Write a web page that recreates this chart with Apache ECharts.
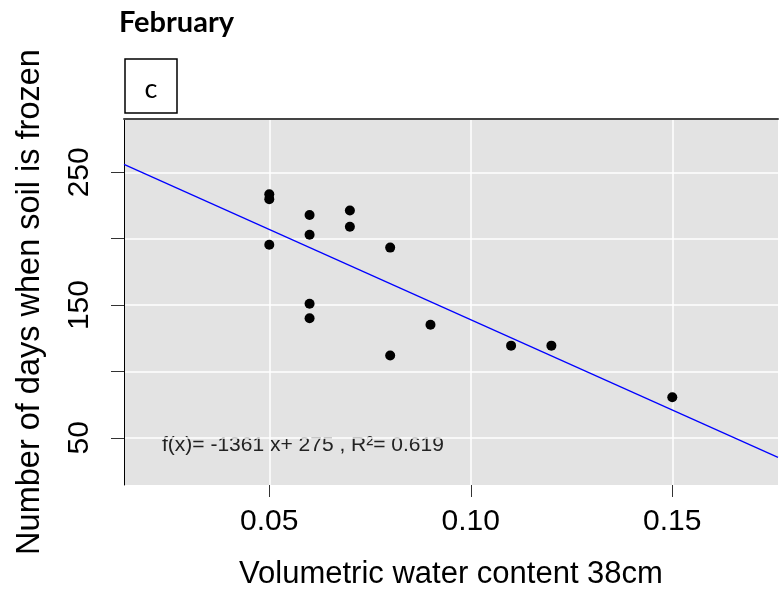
<!DOCTYPE html>
<html>
<head>
<meta charset="utf-8">
<script src="https://cdn.jsdelivr.net/npm/echarts@6/dist/echarts.min.js"></script>
<style>
html,body{margin:0;padding:0;background:#fff;}
#chart{width:780px;height:595px;}
</style>
</head>
<body>
<div id="chart"></div>
<script>
// Data
var waterContent = [0.05, 0.05, 0.05, 0.06, 0.06, 0.06, 0.06, 0.07, 0.07, 0.08, 0.08, 0.09, 0.11, 0.12, 0.15];
var frozenDays   = [233.5, 229.8, 195.5, 217.8, 203, 151, 140, 221.3, 209, 193.3, 112, 135.2, 119.4, 119.4, 80.5];
// Fitted line endpoints at the plot edges
var fitX = [0.01395, 0.17623];
var fitY = [256.0, 35.2];
// Axis ticks
var xTicks = [0.05, 0.10, 0.15];
var yTicks = [50, 100, 150, 200, 250];
var yLabels = [50, 150, 250];
var xRange = [0.01395, 0.17623];
var yRange = [14.4, 290.2];
var titleText = 'February';
var panelText = 'c';
var fitText = 'f(x)= -1361 x+ 275 , R\u00B2= 0.619';
var xName = 'Volumetric water content 38cm';
var yName = 'Number of days when soil is frozen';

var points = waterContent.map(function (x, i) { return [x, frozenDays[i]]; });
var fitLine = fitX.map(function (x, i) { return [x, fitY[i]]; });

var chart = echarts.init(document.getElementById('chart'), null, {renderer: 'canvas'});
var font = 'Liberation Sans, Arial, sans-serif';
chart.setOption({
  animation: false,
  backgroundColor: '#ffffff',
  grid: {
    left: 124, top: 119, right: 2, bottom: 108,
    show: true, backgroundColor: '#e3e3e3', borderWidth: 0
  },
  xAxis: [{
    type: 'value',
    min: xRange[0], max: xRange[1],
    position: 'bottom',
    axisLine: {show: false},
    axisTick: {show: true, customValues: xTicks, length: 12, lineStyle: {color: '#333', width: 1}},
    axisLabel: {customValues: xTicks, margin: 22, color: '#000', fontFamily: font, fontSize: 30,
      formatter: function (v) { return v.toFixed(2); }},
    splitLine: {show: true, lineStyle: {color: '#ffffff', width: 1.5}},
    name: xName, nameLocation: 'middle', nameGap: 74,
    nameTextStyle: {color: '#000', fontFamily: font, fontSize: 31}
  }, {
    type: 'value',
    min: xRange[0], max: xRange[1],
    position: 'top',
    axisLine: {show: true, onZero: false, lineStyle: {color: '#444', width: 2}},
    axisTick: {show: false}, axisLabel: {show: false}, splitLine: {show: false}
  }],
  yAxis: {
    type: 'value',
    min: yRange[0], max: yRange[1],
    axisLine: {show: true, onZero: false, lineStyle: {color: '#000', width: 1}},
    axisTick: {show: true, customValues: yTicks, length: 13, lineStyle: {color: '#333', width: 1}},
    axisLabel: {customValues: yLabels, rotate: 90, margin: 29, color: '#000', fontFamily: font, fontSize: 30},
    splitLine: {show: true, lineStyle: {color: '#ffffff', width: 1.5}},
    name: yName, nameLocation: 'middle', nameGap: 77, nameRotate: 90,
    nameTextStyle: {color: '#000', fontFamily: font, fontSize: 32.5}
  },
  series: [{
    type: 'line',
    data: fitLine,
    showSymbol: false,
    lineStyle: {color: '#0000ff', width: 1.2},
    silent: true,
    z: 2
  }, {
    type: 'scatter',
    data: points,
    symbol: 'circle',
    symbolSize: 10,
    itemStyle: {color: '#000000', opacity: 1},
    z: 3
  }],
  graphic: [{
    type: 'text', left: 119, top: 8,
    style: {text: titleText, font: 'bold 29px Lato, sans-serif', fill: '#000'}
  }, {
    type: 'rect', shape: {x: 125, y: 59, width: 52, height: 54},
    style: {fill: '#fff', stroke: '#000', lineWidth: 1.5}
  }, {
    type: 'text', x: 151, y: 89,
    style: {text: panelText, font: '27px Lato, sans-serif', fill: '#000', align: 'center', verticalAlign: 'middle'}
  }, {
    type: 'text', x: 162, y: 445,
    style: {text: fitText, font: '21px Liberation Sans, Arial, sans-serif', fill: '#222', verticalAlign: 'middle'}
  }]
});
</script>
</body>
</html>
